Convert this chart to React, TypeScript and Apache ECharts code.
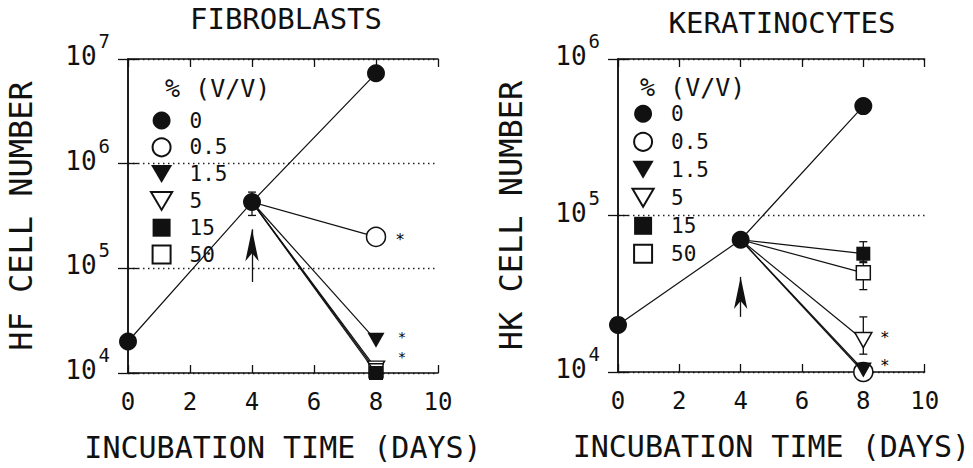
import React, { useEffect, useRef } from 'react';
import * as echarts from 'echarts';

// ---------- data ----------
const concentrations = ['0', '0.5', '1.5', '5', '15', '50'];
const dayTicks = [0, 2, 4, 6, 8, 10];

// Fibroblasts (HF)
const hfDay0 = 2.0e4;
const hfDay4 = 4.3e5;
const hfDay4Err = [3.2e5, 5.35e5];
const hfDay8 = [7.3e6, 2.0e5, 2.05e4, 1.1e4, 1.0e4, 1.05e4];
const hfStars = [false, true, true, true, false, false];
const hfArrow = [7.4e4, 2.36e5];

// Keratinocytes (HK)
const hkDay0 = 2.0e4;
const hkDay4 = 7.0e4;
const hkDay4Err = [6.6e4, 7.4e4];
const hkDay8 = [5.0e5, 1.0e4, 1.03e4, 1.6e4, 5.7e4, 4.3e4];
const hkDay8ErrLow = [null, null, null, 1.3e4, 5.0e4, 3.36e4];
const hkDay8ErrHigh = [null, null, null, 2.25e4, 6.8e4, 5.1e4];
const hkStars = [false, false, true, true, false, false];
const hkArrow = [2.25e4, 4.05e4];

// ---------- styling ----------
const INK = '#111';
const MONO = '"DejaVu Sans Mono", monospace';
const DOWN = 'path://M0,0L20,0L10,17Z';
const symbols = ['circle', 'circle', DOWN, DOWN, 'rect', 'rect'];
const filled = [true, false, true, false, true, false];
const sizes: any[] = [18, 19, [17, 15], [17, 15], 14, 14];
const zOrder = [4, 2, 3, 2, 5, 2];
const hfStarOffsets: any[] = [null, [24, 3], [26, -3], [26, -12]];
const hkStarOffsets: any[] = [null, null, [21.5, -4], [21.5, -3]];
const hfStarSize = [0, 16, 14, 14];
const hkStarSize = [0, 0, 16, 16];

function buildSeries(gi: number, d0: number, d4: number, d8: number[], stars: boolean[], offs: any[], starSizes: number[], arrow: number[]) {
  return concentrations.map((name, i) => {
    const last: any = { value: [8, d8[i]] };
    if (stars[i]) {
      last.label = {
        show: true,
        formatter: '*',
        position: 'inside',
        offset: offs[i],
        fontSize: starSizes[i],
        fontFamily: MONO,
        color: '#000',
        textBorderWidth: 0,
        textBorderColor: 'transparent',
      };
    }
    const data: any[] =
      i === 0
        ? [{ value: [0, d0] }, { value: [4, d4] }, last]
        : [{ value: [4, d4], symbol: 'none' }, last];
    const s: any = {
      type: 'line',
      name,
      xAxisIndex: gi * 2,
      yAxisIndex: gi * 2,
      data,
      symbol: symbols[i],
      symbolSize: sizes[i],
      showAllSymbol: true,
      clip: false,
      z: zOrder[i],
      lineStyle: { color: INK, width: 1.2 },
      itemStyle: {
        color: filled[i] ? INK : '#fff',
        borderColor: INK,
        borderWidth: filled[i] ? 0 : 1.5,
      },
      emphasis: { disabled: true },
      label: { show: false },
    };
    if (i === 0) {
      s.markLine = {
        silent: true,
        symbol: ['none', 'arrow'],
        symbolSize: [10, 32],
        lineStyle: { color: INK, width: 1.3, type: 'solid' },
        label: { show: false },
        data: [[{ coord: [4, arrow[0]] }, { coord: [4, arrow[1]] }]],
      };
    }
    return s;
  });
}

function errSeries(gi: number, data: number[][]) {
  return {
    type: 'custom',
    xAxisIndex: gi * 2,
    yAxisIndex: gi * 2,
    z: 1,
    silent: true,
    clip: false,
    data,
    encode: { x: 0, y: [1, 2] },
    renderItem: (params: any, api: any) => {
      const x = api.value(0);
      const lo = api.coord([x, api.value(1)]);
      const hi = api.coord([x, api.value(2)]);
      const w = 4;
      const st = { stroke: INK, lineWidth: 1.3 };
      return {
        type: 'group',
        children: [
          { type: 'line', shape: { x1: lo[0], y1: lo[1], x2: hi[0], y2: hi[1] }, style: st },
          { type: 'line', shape: { x1: hi[0] - w, y1: hi[1], x2: hi[0] + w, y2: hi[1] }, style: st },
          { type: 'line', shape: { x1: lo[0] - w, y1: lo[1], x2: lo[0] + w, y2: lo[1] }, style: st },
        ],
      };
    },
  };
}

function xAxes(gi: number) {
  const common = {
    type: 'value',
    gridIndex: gi,
    min: dayTicks[0],
    max: dayTicks[dayTicks.length - 1],
    interval: 2,
    axisLine: { show: true, lineStyle: { color: INK, width: 1.5 } },
    axisTick: { show: true, inside: true, length: 8, lineStyle: { color: INK, width: 1.3 } },
    splitLine: { show: false },
  };
  return [
    {
      ...common,
      position: 'bottom',
      name: 'INCUBATION TIME (DAYS)',
      nameLocation: 'middle',
      nameGap: 59,
      nameTextStyle: { fontFamily: MONO, fontSize: 30, color: INK },
      axisLabel: { show: true, fontFamily: MONO, fontSize: 24, color: INK, margin: 17 },
    },
    { ...common, position: 'top', axisLabel: { show: false } },
  ];
}

function yAxes(gi: number, range: number[], split: number, name: string) {
  const common = {
    type: 'log',
    logBase: 10,
    gridIndex: gi,
    min: range[0],
    max: range[1],
    splitNumber: split,
    axisLine: { show: true, lineStyle: { color: INK, width: 1.5 } },
    axisTick: { show: true, inside: true, length: 10, lineStyle: { color: INK, width: 1.3 } },
    minorTick: { show: false },
  };
  return [
    {
      ...common,
      position: 'left',
      name,
      nameLocation: 'middle',
      nameRotate: 90,
      nameGap: 91,
      nameTextStyle: { fontFamily: MONO, fontSize: 32, color: INK },
      splitLine: { show: true, lineStyle: { color: '#222', width: 1.3, type: [1.5, 3.5] } },
      axisLabel: {
        show: true,
        margin: 18,
        formatter: (v: number) => `{b|10}{s|${Math.round(Math.log10(v))}}`,
        rich: {
          b: { fontFamily: MONO, fontSize: 26, color: INK, lineHeight: 26, padding: [0, 0, 6, 0] },
          s: { fontFamily: MONO, fontSize: 19, color: INK, lineHeight: 18, padding: [0, 0, 36, 2] },
        },
      },
    },
    { ...common, position: 'right', splitLine: { show: false }, axisLabel: { show: false } },
  ];
}

function legendFor(left: number, top: number, gap: number) {
  return {
    orient: 'vertical',
    left,
    top,
    padding: 0,
    itemGap: gap,
    itemWidth: 46,
    itemHeight: 18,
    selectedMode: false,
    textStyle: { fontFamily: MONO, fontSize: 21, color: INK, lineHeight: 20 },
    data: concentrations.map((c, i) => ({
      name: c,
      icon: symbols[i] === 'rect' ? 'path://M0,0L14,0L14,14L0,14Z' : symbols[i],
    })),
  };
}

export default function App() {
  const ref = useRef<HTMLDivElement>(null);
  useEffect(() => {
    if (!ref.current) return;
    const chart = echarts.init(ref.current, undefined, { renderer: 'svg' });
    const hkErr: number[][] = [[4, hkDay4Err[0], hkDay4Err[1]]];
    concentrations.forEach((_, i) => {
      if (hkDay8ErrLow[i] != null && hkDay8ErrHigh[i] != null) {
        hkErr.push([8, hkDay8ErrLow[i] as number, hkDay8ErrHigh[i] as number]);
      }
    });
    const option: any = {
      animation: false,
      backgroundColor: '#fff',
      grid: [
        { left: 128, top: 59, width: 310, height: 314 },
        { left: 618, top: 59, width: 309, height: 313 },
      ],
      xAxis: [...xAxes(0), ...xAxes(1)],
      yAxis: [
        ...yAxes(0, [1e4, 1e7], 3, 'HF CELL NUMBER'),
        ...yAxes(1, [1e4, 1e6], 2, 'HK CELL NUMBER'),
      ],
      legend: [legendFor(150, 110, 5.8), legendFor(631.5, 103.3, 7)],
      graphic: [
        { type: 'text', x: 286, y: 19, style: { text: 'FIBROBLASTS', fill: INK, fontFamily: MONO, fontSize: 29, align: 'center', verticalAlign: 'middle', textAlign: 'center', textVerticalAlign: 'middle' } },
        { type: 'text', x: 782, y: 23, style: { text: 'KERATINOCYTES', fill: INK, fontFamily: MONO, fontSize: 29, align: 'center', verticalAlign: 'middle', textAlign: 'center', textVerticalAlign: 'middle' } },
        { type: 'text', x: 165, y: 88, style: { text: '% (V/V)', fill: INK, fontFamily: MONO, fontSize: 25, align: 'left', verticalAlign: 'middle', textAlign: 'left', textVerticalAlign: 'middle' } },
        { type: 'text', x: 640, y: 87, style: { text: '% (V/V)', fill: INK, fontFamily: MONO, fontSize: 25, align: 'left', verticalAlign: 'middle', textAlign: 'left', textVerticalAlign: 'middle' } },
      ],
      series: [
        ...buildSeries(0, hfDay0, hfDay4, hfDay8, hfStars, hfStarOffsets, hfStarSize, hfArrow),
        ...buildSeries(1, hkDay0, hkDay4, hkDay8, hkStars, hkStarOffsets, hkStarSize, hkArrow),
        errSeries(0, [[4, hfDay4Err[0], hfDay4Err[1]]]),
        errSeries(1, hkErr),
      ],
    };
    chart.setOption(option);
    return () => chart.dispose();
  }, []);
  return (
    <div
      ref={ref}
      style={{ position: 'fixed', left: 0, top: 0, width: 973, height: 468, background: '#fff' }}
    />
  );
}
